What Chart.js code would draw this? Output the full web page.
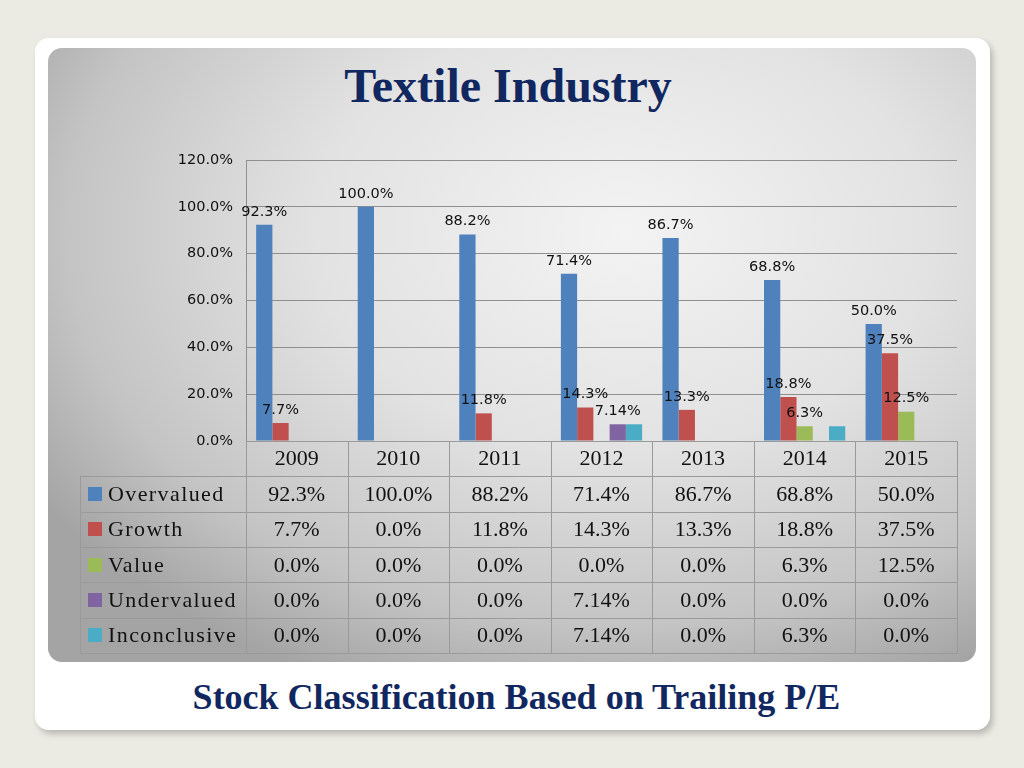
<!DOCTYPE html>
<html>
<head>
<meta charset="utf-8">
<title>Textile Industry</title>
<script src="https://cdn.jsdelivr.net/npm/chart.js@4"></script>
<style>
  html, body { margin: 0; padding: 0; }
  body { width: 1024px; height: 768px; background: #ecebe3; position: relative; overflow: hidden; }
  .card {
    position: absolute; left: 35px; top: 38px; width: 955px; height: 692px;
    background: #fff; border-radius: 14px;
    box-shadow: 3px 4px 6px rgba(0, 0, 0, 0.22);
  }
  .panel {
    position: absolute; left: 48px; top: 48px; width: 928px; height: 614px;
    border-radius: 14px;
    background: radial-gradient(ellipse 75% 80% at 62% 30%, #f3f3f3 0%, #e2e2e2 45%, #c4c4c4 80%, #a4a4a4 100%);
  }
  .title {
    position: absolute; left: 44px; width: 928px; top: 62px;
    text-align: center; font: bold 48px/48px "Liberation Serif", serif; color: #112760;
  }
  .subtitle {
    position: absolute; left: 39px; width: 955px; top: 679px;
    text-align: center; font: bold 36px/36px "Liberation Serif", serif; color: #112760;
  }
  .chart-box { position: absolute; left: 48px; top: 48px; width: 928px; height: 614px; }
</style>
</head>
<body>
<div class="card"></div>
<div class="panel"></div>
<div class="title">Textile Industry</div>
<div class="chart-box"><canvas id="chart"></canvas></div>
<div class="subtitle">Stock Classification Based on Trailing P/E</div>

<script>
// data
const years = ["2009", "2010", "2011", "2012", "2013", "2014", "2015"];
const overvalued = [92.3, 100.0, 88.2, 71.4, 86.7, 68.8, 50.0];
const growth = [7.7, 0.0, 11.8, 14.3, 13.3, 18.8, 37.5];
const valueStocks = [0.0, 0.0, 0.0, 0.0, 0.0, 6.3, 12.5];
const undervalued = [0.0, 0.0, 0.0, 7.14, 0.0, 0.0, 0.0];
const inconclusive = [0.0, 0.0, 0.0, 7.14, 0.0, 6.3, 0.0];
const seriesNames = ["Overvalued", "Growth", "Value", "Undervalued", "Inconclusive"];
const seriesColors = ["#4f81bd", "#c0504d", "#9bbb59", "#8064a2", "#4bacc6"];
const yTicks = [0, 20, 40, 60, 80, 100, 120];

const allSeries = [overvalued, growth, valueStocks, undervalued, inconclusive];

// 7.14 keeps two decimals, the rest one
const fmt = (v) => (Math.round(v * 10) === v * 10 ? v.toFixed(1) : v.toFixed(2)) + "%";

// bar value labels (Excel hides the Inconclusive ones)
const barLabels = {
  id: "barLabels",
  afterDatasetsDraw(chart) {
    const ctx = chart.ctx;
    ctx.save();
    ctx.font = '14.5px "DejaVu Sans", Verdana, sans-serif';
    ctx.fillStyle = "#111";
    ctx.textAlign = "center";
    ctx.textBaseline = "middle";
    chart.data.datasets.forEach((ds, di) => {
      if (di === 4) return;
      chart.getDatasetMeta(di).data.forEach((bar, i) => {
        const v = ds.data[i];
        if (!v) return;
        ctx.fillText(fmt(v), bar.x, bar.y - 13);
      });
    });
    ctx.restore();
  },
};

// data table under the plot, columns follow the x scale
const dataTable = {
  id: "dataTable",
  afterDraw(chart) {
    const ctx = chart.ctx;
    const area = chart.chartArea;
    const xs = chart.scales.x;
    const colW = area.width / years.length;
    const rowH = 35.35;
    const top = area.bottom;
    const legendLeft = 32;
    const rows = allSeries.length + 1;
    const bottom = top + rows * rowH;
    const px = (v) => Math.round(v) + 0.5;

    ctx.save();
    ctx.strokeStyle = "#9a9a9a";
    ctx.lineWidth = 1;
    ctx.beginPath();
    // horizontal lines
    for (let r = 0; r <= rows; r++) {
      const y = px(top + r * rowH);
      ctx.moveTo(r === 0 ? area.left : legendLeft, y);
      ctx.lineTo(area.right, y);
    }
    // vertical lines
    for (let c = 0; c <= years.length; c++) {
      const x = px(area.left + c * colW);
      ctx.moveTo(x, top);
      ctx.lineTo(x, bottom);
    }
    ctx.moveTo(px(legendLeft), top + rowH);
    ctx.lineTo(px(legendLeft), bottom);
    ctx.stroke();

    ctx.font = '22px "Liberation Serif", serif';
    ctx.fillStyle = "#111";
    ctx.textBaseline = "middle";
    ctx.textAlign = "center";
    years.forEach((yr, i) => {
      ctx.fillText(yr, xs.getPixelForValue(i), top + rowH / 2 + 1);
    });
    allSeries.forEach((vals, r) => {
      const cy = top + (r + 1.5) * rowH + 1;
      ctx.textAlign = "center";
      ctx.letterSpacing = "0px";
      vals.forEach((v, i) => ctx.fillText(fmt(v), xs.getPixelForValue(i), cy));
      // legend key + name
      ctx.fillStyle = seriesColors[r];
      ctx.fillRect(legendLeft + 8, Math.round(cy - 8), 14, 14);
      ctx.fillStyle = "#111";
      ctx.textAlign = "left";
      ctx.letterSpacing = "1.4px";
      ctx.fillText(seriesNames[r], legendLeft + 28, cy);
    });
    ctx.restore();
  },
};

const ctx = document.getElementById("chart").getContext("2d");
new Chart(ctx, {
  type: "bar",
  data: {
    labels: years,
    datasets: allSeries.map((vals, i) => ({
      label: seriesNames[i],
      data: vals,
      backgroundColor: seriesColors[i],
      borderWidth: 0,
      categoryPercentage: 0.8,
      barPercentage: 1.0,
    })),
  },
  options: {
    responsive: true,
    maintainAspectRatio: false,
    animation: false,
    layout: { padding: { left: 0, right: 19, top: 112, bottom: 221 } },
    plugins: {
      legend: { display: false },
      tooltip: { enabled: false },
    },
    scales: {
      x: {
        grid: { display: false },
        border: { display: false },
        ticks: { display: false },
        afterFit: (s) => { s.height = 0; },
      },
      y: {
        min: yTicks[0],
        max: yTicks[yTicks.length - 1],
        afterBuildTicks: (s) => { s.ticks = yTicks.map((v) => ({ value: v })); },
        afterFit: (s) => { s.width = 198; },
        grid: { color: "#8f8f8f", lineWidth: 1, drawTicks: false },
        border: { display: true, color: "#8f8f8f" },
        ticks: {
          padding: 13,
          color: "#111",
          font: { family: '"DejaVu Sans", Verdana, sans-serif', size: 14.5 },
          callback: (v) => v.toFixed(1) + "%",
        },
      },
    },
  },
  plugins: [barLabels, dataTable],
});
</script>
</body>
</html>
